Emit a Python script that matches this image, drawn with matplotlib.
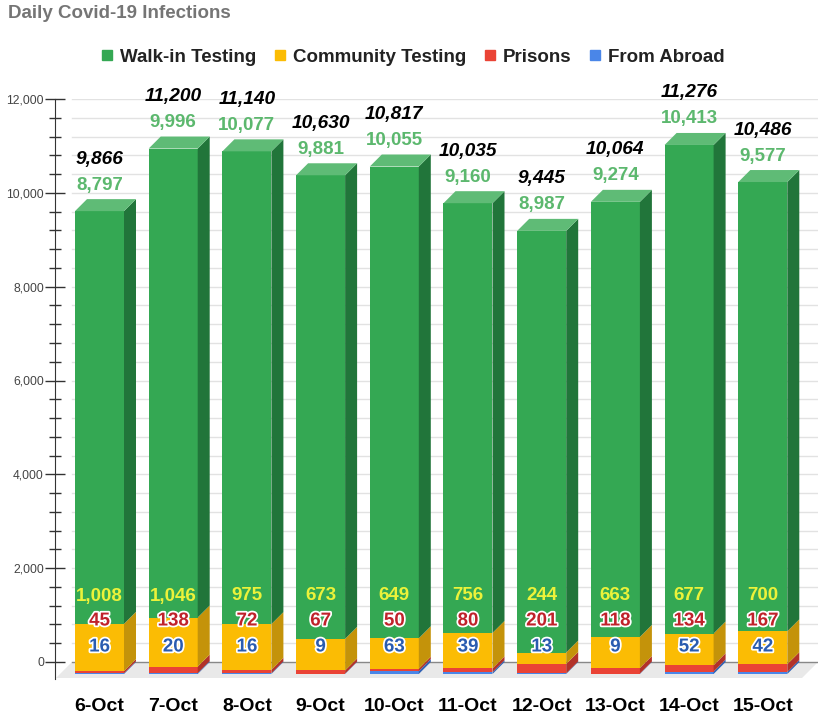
import matplotlib.pyplot as plt
from matplotlib.patches import Polygon
from matplotlib.lines import Line2D
import matplotlib.patheffects as pe

plt.rcParams['font.family'] = ['Liberation Sans', 'DejaVu Sans']

days = ['6-Oct', '7-Oct', '8-Oct', '9-Oct', '10-Oct', '11-Oct', '12-Oct', '13-Oct', '14-Oct', '15-Oct']
walkin = [8797, 9996, 10077, 9881, 10055, 9160, 8987, 9274, 10413, 9577]
community = [1008, 1046, 975, 673, 649, 756, 244, 663, 677, 700]
prisons = [45, 138, 72, 67, 50, 80, 201, 118, 134, 167]
abroad = [16, 20, 16, 9, 63, 39, 13, 9, 52, 42]
series_names = ['Walk-in Testing', 'Community Testing', 'Prisons', 'From Abroad']

# front, side, top colours
green = ('#34a853', '#21753a', '#5fbb76')
yellow = ('#fbbc04', '#c4930a', '#fcd04f')
red = ('#ea4335', '#b2322a', '#f07a70')
blue = ('#4a86e8', '#3162b5', '#7aa7ef')

W, H = 820, 719
fig = plt.figure(figsize=(W / 100, H / 100), dpi=100)

# axes placed in pixel terms
ax_l, ax_r, ax_t, ax_b = 55, 818, 99, 690
ax = fig.add_axes([ax_l / W, 1 - ax_b / H, (ax_r - ax_l) / W, (ax_b - ax_t) / H])
ky = (662 - 99) / 12000.0          # px per unit
kx = 73.7                          # px per bar slot
x0 = 111.5                         # px of first bar (back)
xmin, xmax = (ax_l - x0) / kx, (ax_r - x0) / kx
ax.set_xlim(xmin, xmax)
ax.set_ylim(-(ax_b - 662) / ky, 12000)

dx, dy = 12 / kx, 12 / ky
w = 49 / kx
fdx, fdy = 16 / kx, 16 / ky
grid_x0 = (72 - x0) / kx

# back wall grid + floor
for v in range(400, 12001, 400):
    ax.plot([grid_x0, xmax], [v, v], color='#e2e2e2', lw=1, zorder=0)
floor = Polygon([(grid_x0, 0), (xmax, 0), (xmax - fdx, -fdy), (grid_x0 - fdx, -fdy)],
                closed=True, facecolor='#e9e9e9', edgecolor='none', zorder=0)
ax.add_patch(floor)
ax.plot([grid_x0, xmax], [0, 0], color='#888888', lw=1, zorder=1)

stack = [(abroad, blue), (prisons, red), (community, yellow), (walkin, green)]
for i in range(len(days)):
    base = 0
    for vals, col in stack:
        v = vals[i]
        xl = i - dx - w / 2
        xr = i - dx + w / 2
        ax.bar(i - dx, v, width=w, bottom=base - dy, color=col[0], linewidth=0, zorder=2)
        side = Polygon([(xr, base - dy), (xr + dx, base), (xr + dx, base + v), (xr, base + v - dy)],
                       closed=True, facecolor=col[1], edgecolor='none', zorder=2)
        ax.add_patch(side)
        base += v
    top = Polygon([(xl, base - dy), (xl + dx, base), (xr + dx, base), (xr, base - dy)],
                  closed=True, facecolor=green[2], edgecolor='none', zorder=2)
    ax.add_patch(top)

    total = base
    ax.text(i - dx, total + 40 / ky, f'{total:,}', ha='center', va='center', fontsize=13.8,
            fontweight='bold', fontstyle='italic', color='black', zorder=5)
    ax.text(i - dx, total + 14 / ky, f'{walkin[i]:,}', ha='center', va='center', fontsize=13.5,
            fontweight='bold', color='#5cb86e', zorder=5)
    outline = [pe.withStroke(linewidth=2.5, foreground='white')]
    ax.text(i - dx, 66 / ky + 0, f'{community[i]:,}', ha='center', va='center', fontsize=13.5,
            fontweight='bold', color='#ecf23a', zorder=5)
    ax.text(i - dx, 41 / ky, f'{prisons[i]:,}', ha='center', va='center', fontsize=13.5,
            fontweight='bold', color='#c0222b', zorder=5, path_effects=outline)
    ax.text(i - dx, 15 / ky, f'{abroad[i]:,}', ha='center', va='center', fontsize=13.5,
            fontweight='bold', color='#2a5cb0', zorder=5, path_effects=outline)

# axes styling
for s in ['top', 'right', 'bottom']:
    ax.spines[s].set_visible(False)
ax.spines['left'].set_bounds(-17 / ky, 12000)
ax.spines['left'].set_color('#333333')
ax.set_yticks(range(0, 12001, 2000))
ax.set_yticklabels([f'{v:,}' for v in range(0, 12001, 2000)])
ax.set_yticks(range(0, 12001, 400), minor=True)
ax.tick_params(axis='y', which='major', direction='inout', length=14, width=1,
               color='#333333', labelsize=8.7, labelcolor='#444444', pad=1)
ax.tick_params(axis='y', which='minor', direction='inout', length=9, width=1, color='#333333')
ax.set_xticks([i - dx for i in range(len(days))])
ax.set_xticklabels(days, fontsize=14, fontweight='bold')
ax.tick_params(axis='x', length=0, pad=6)
ax.patch.set_visible(False)

fig.text(8 / W, 1 - 13 / H, 'Daily Covid-19 Infections', ha='left', va='center',
         fontsize=13.5, fontweight='bold', color='#757575')

handles = [Line2D([], [], marker='s', linestyle='none', markersize=7, color=c[0])
           for c in (green, yellow, red, blue)]
fig.legend(handles, series_names, loc='center', bbox_to_anchor=(413 / W, 1 - 57 / H), ncol=4,
           frameon=False, prop={'size': 13.5, 'weight': 'bold'}, handlelength=0.6,
           handletextpad=0.4, columnspacing=0.95, labelcolor='#222222')

fig.savefig('out.png', dpi=100)
